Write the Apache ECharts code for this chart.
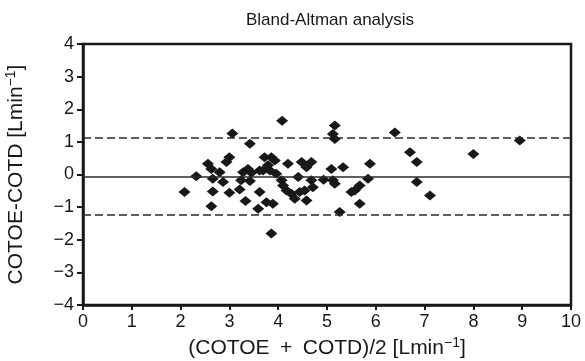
<!DOCTYPE html>
<html><head><meta charset="utf-8">
<script src="https://cdn.jsdelivr.net/npm/echarts@6/dist/echarts.min.js"></script>
<style>html,body{margin:0;padding:0;background:#fff}#c{width:585px;height:361px}</style>
</head><body><div id="c"></div>
<script>
const titleText = 'Bland-Altman analysis';
const xTicks = [0,1,2,3,4,5,6,7,8,9,10];
const yTicks = [-4,-3,-2,-1,0,1,2,3,4];
const meanDiff = -0.06;
const upperLoA = 1.14;
const lowerLoA = -1.23;
const xs = [3.06,3.42,3.0,2.94,2.56,2.63,2.32,2.66,2.8,2.87,2.08,2.66,3.0,2.63,3.28,3.24,3.21,3.33,
  4.08,3.72,3.86,3.93,3.79,4.2,4.48,4.68,4.58,3.38,3.45,3.62,3.69,3.83,3.96,4.41,4.07,4.1,4.17,4.27,4.34,4.44,4.54,4.68,4.71,3.62,3.59,3.76,3.89,4.58,3.86,4.93,3.42,
  5.16,5.12,5.16,6.39,5.88,5.09,5.33,5.12,5.16,5.84,5.67,5.57,5.5,5.67,5.26,
  6.7,6.84,6.84,7.11,8.0,8.95];
const ys = [1.26,0.94,0.53,0.38,0.33,0.17,-0.05,-0.13,0.07,-0.23,-0.54,-0.52,-0.56,-0.97,0.07,-0.18,-0.46,-0.81,
  1.65,0.53,0.53,0.43,0.28,0.33,0.38,0.38,0.22,0.17,0.05,0.12,0.12,0.12,0.02,-0.08,-0.18,-0.34,-0.49,-0.59,-0.74,-0.54,-0.49,-0.18,-0.39,-0.54,-1.05,-0.85,-0.9,-0.8,-1.81,-0.16,-0.2,
  1.5,1.24,1.09,1.29,0.33,0.17,0.22,-0.18,-0.28,-0.13,-0.34,-0.49,-0.54,-0.9,-1.15,
  0.68,0.38,-0.23,-0.64,0.63,1.04];
const pts = xs.map((x,i)=>[x,ys[i]]);
const ink = '#1a1718';
const font = 'Liberation Sans, Arial, Helvetica, sans-serif';
const nameRich = {a:{fontFamily:font,fontSize:21,color:ink},s:{fontFamily:font,fontSize:14,color:ink,padding:[0,0,10,0]}};
const chart = echarts.init(document.getElementById('c'));
chart.setOption({
  animation:false,
  title:{text:titleText,left:325,top:7,textAlign:'center',textStyle:{fontFamily:font,fontSize:17,fontWeight:'normal',color:ink}},
  grid:{left:83,right:14,top:44,bottom:56,show:true,borderColor:ink,borderWidth:2.5,backgroundColor:'transparent',containLabel:false,outerBoundsMode:'none'},
  xAxis:{type:'value',min:xTicks[0],max:xTicks[xTicks.length-1],interval:1,
    axisLine:{show:true,onZero:false,lineStyle:{color:ink,width:2.5}},
    axisTick:{show:true,length:5,lineStyle:{color:ink,width:2}},
    axisLabel:{fontFamily:font,fontSize:18,color:ink,margin:8},
    splitLine:{show:false},
    name:'{a|(COTOE\u2002+\u2002COTD)/2 [Lmin}{s|−1}{a|]}',nameLocation:'middle',nameGap:31,
    nameTextStyle:{rich:nameRich}},
  yAxis:{type:'value',min:yTicks[0],max:yTicks[yTicks.length-1],interval:1,
    axisLine:{show:true,onZero:false,lineStyle:{color:ink,width:2.5}},
    axisTick:{show:true,length:6,lineStyle:{color:ink,width:2}},
    axisLabel:{fontFamily:font,fontSize:18,color:ink,margin:9,formatter:v=>v<0?'−'+Math.abs(v):String(v)},
    splitLine:{show:false},
    name:'{a|COTOE-COTD [Lmin}{s|−1}{a|]}',nameLocation:'middle',nameGap:55,
    nameTextStyle:{rich:nameRich}},
  series:[{
    type:'scatter',data:pts,symbol:'diamond',symbolSize:[12,10],
    itemStyle:{color:ink,opacity:1},
    markLine:{silent:true,symbol:'none',label:{show:false},
      data:[
        {yAxis:meanDiff,lineStyle:{type:'solid',color:'#2a2a2a',width:1.5}},
        {yAxis:upperLoA,lineStyle:{type:[8,4],color:'#2a2a2a',width:1.5}},
        {yAxis:lowerLoA,lineStyle:{type:[8,4],color:'#2a2a2a',width:1.5}}
      ]},
    z:3
  }]
});
</script></body></html>
